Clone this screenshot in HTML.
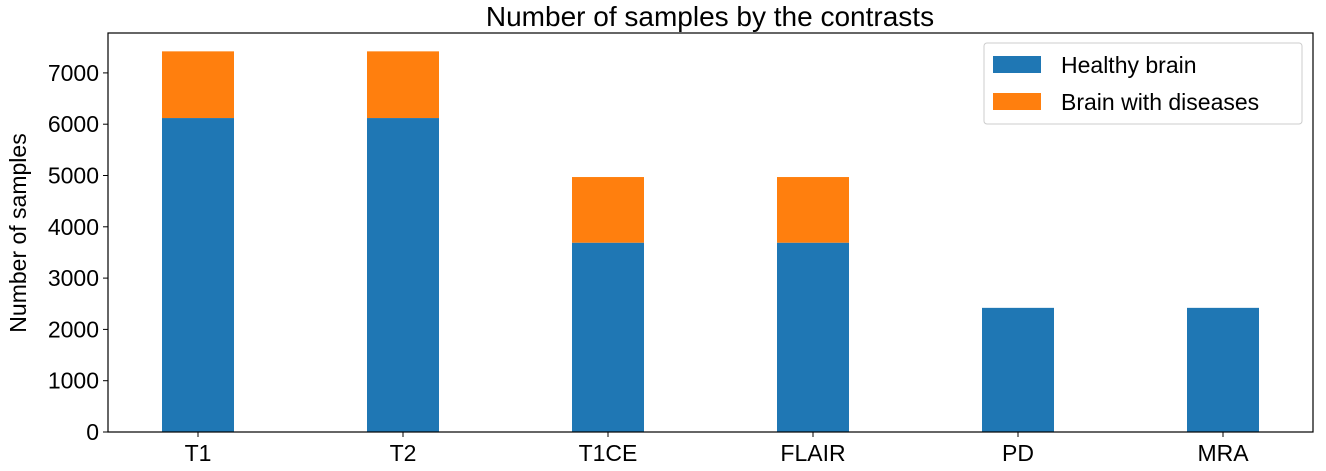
<!DOCTYPE html>
<html><head><meta charset="utf-8"><style>
body{margin:0;background:#fff;}
svg text{font-family:"Liberation Sans","DejaVu Sans",sans-serif;fill:#000;}
</style></head><body>
<svg id="chart" width="1326" height="466" xmlns="http://www.w3.org/2000/svg">
<text x="710" y="26" font-size="28" text-anchor="middle">Number of samples by the contrasts</text>
<text transform="translate(26,233) rotate(-90)" font-size="23" text-anchor="middle">Number of samples</text>
<g id="bars"></g>
<g id="axes"></g>
<g>
<rect x="984" y="43" width="318" height="81" rx="3" fill="#fff" stroke="#ccc"/>
<rect x="993" y="56" width="48" height="17" fill="#1f77b4"/>
<text x="1061" y="73" font-size="23">Healthy brain</text>
<rect x="993" y="93" width="48" height="17" fill="#ff7f0e"/>
<text x="1061" y="110" font-size="23">Brain with diseases</text>
</g>
</svg>
<script>
const categories=["T1","T2","T1CE","FLAIR","PD","MRA"];
const healthy=[6120,6120,3690,3690,2420,2420];
const diseases=[1300,1300,1280,1280,0,0];
const yTicks=[0,1000,2000,3000,4000,5000,6000,7000];
const NS="http://www.w3.org/2000/svg";
const L=108,R=1313,T=33,B=432;
const y=v=>B-v*0.0513;
const x=i=>198+i*205;
const bw=72;
function mk(tag,attrs,parent){const e=document.createElementNS(NS,tag);for(const k in attrs)e.setAttribute(k,attrs[k]);parent.appendChild(e);return e;}
const bars=document.getElementById('bars'),axes=document.getElementById('axes');
categories.forEach((c,i)=>{
 const b=mk('rect',{x:x(i)-bw/2,y:y(healthy[i]),width:bw,height:B-y(healthy[i]),fill:'#1f77b4'},bars);
 
 
 if(diseases[i]>0){
  const d=mk('rect',{x:x(i)-bw/2,y:y(healthy[i]+diseases[i]),width:bw,height:y(healthy[i])-y(healthy[i]+diseases[i]),fill:'#ff7f0e'},bars);
  
  
 }
 mk('line',{x1:x(i),x2:x(i),y1:B,y2:B+5,stroke:'#000','stroke-width':1},axes);
 const t=mk('text',{x:x(i),y:B+29,'font-size':23,'text-anchor':'middle'},axes);
 t.textContent=c;
 
 
});
yTicks.forEach(v=>{
 mk('line',{x1:L-5,x2:L,y1:y(v),y2:y(v),stroke:'#000','stroke-width':1},axes);
 const t=mk('text',{x:L-9,y:y(v)+8,'font-size':23,'text-anchor':'end'},axes);
 t.textContent=v;
 
 
});
const f=mk('rect',{x:L,y:T,width:R-L,height:B-T,fill:'none',stroke:'#000','stroke-width':1.2},axes);


</script>
</body></html>
